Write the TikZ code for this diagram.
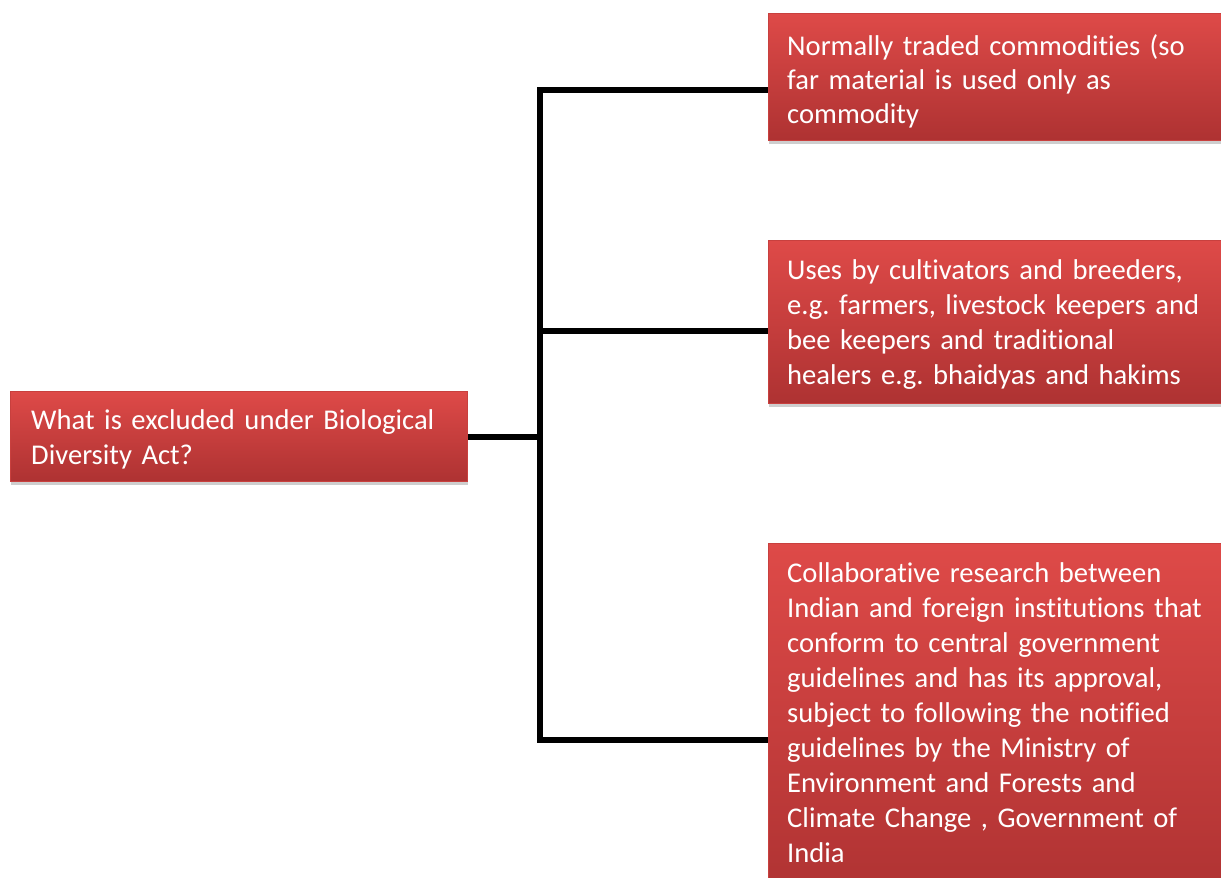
\documentclass[tikz,border=0pt]{standalone}
\usepackage{fontspec}
\setmainfont{Carlito}[RawFeature=-liga]
\usetikzlibrary{shadows}
\definecolor{boxtop}{RGB}{222,74,72}
\definecolor{boxbot}{RGB}{174,50,50}
\definecolor{boxedge}{RGB}{200,64,62}
\tikzset{
  redbox/.style={rectangle, top color=boxtop, bottom color=boxbot, draw=boxedge, line width=0.8pt,
    anchor=north west, inner sep=0pt,
    drop shadow={shadow xshift=1pt, shadow yshift=-4pt, opacity=0.35, fill=black!55}},
  boxtext/.style={text=white, align=left, anchor=north west, inner sep=0pt,
    text width=440pt, font=\fontsize{28.6}{35}\selectfont},
  link/.style={line width=5.5pt, draw=black}
}
\begin{document}
\frenchspacing
\begin{tikzpicture}[x=1pt,y=-1pt]
\useasboundingbox (0,0) rectangle (1221,878);
\node[redbox, minimum width=457, minimum height=90] (root) at (10,391) {};
\node[boxtext] (roott) at ([xshift=21pt,yshift=-18pt]root.north west)
  {What is excluded under Biological\\Diversity Act?};
\node[redbox, minimum width=453, minimum height=127] (b1) at (768,13) {};
\node[boxtext, font=\fontsize{28.6}{34}\selectfont] (b1t) at ([xshift=19pt,yshift=-21pt]b1.north west)
  {Normally traded commodities (so\\far material is used only as\\commodity};
\node[redbox, minimum width=453, minimum height=163] (b2) at (768,240) {};
\node[boxtext] (b2t) at ([xshift=19pt,yshift=-19pt]b2.north west)
  {Uses by cultivators and breeders,\\e.g. farmers, livestock keepers and\\bee keepers and traditional\\healers e.g. bhaidyas and hakims};
\node[redbox, minimum width=453, minimum height=360] (b3) at (768,543) {};
\node[boxtext, font=\fontsize{28.6}{35.1}\selectfont] (b3t) at ([xshift=19pt,yshift=-19pt]b3.north west)
  {Collaborative research between\\Indian and foreign institutions that\\conform to central government\\guidelines and has its approval,\\subject to following the notified\\guidelines by the Ministry of\\Environment and Forests and\\Climate Change , Government of\\India};
\coordinate (j0) at (540,437);
\coordinate (j1) at (540,90);
\coordinate (j2) at (540,331);
\coordinate (j3) at (540,740);
\draw[link] (root.east |- j0) -- (j0);
\draw[link, line cap=rect] (j1) -- (j3);
\draw[link] (j1) -- (b1.west |- j1);
\draw[link] (j2) -- (b2.west |- j2);
\draw[link] (j3) -- (b3.west |- j3);
\end{tikzpicture}
\end{document}
